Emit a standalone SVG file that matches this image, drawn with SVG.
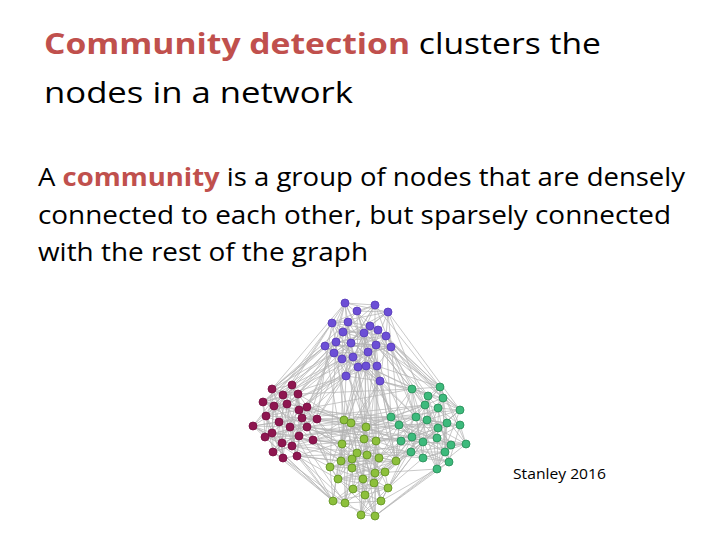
<svg xmlns="http://www.w3.org/2000/svg" width="720" height="540" viewBox="0 0 720 540">
<style>
text{font-family:"Open Sans","Noto Sans","Liberation Sans",sans-serif;fill:#000}
.red{fill:#C0504D;font-weight:bold}
.e path{fill:none;stroke:#b4b4b4;stroke-width:0.9;stroke-opacity:0.8;stroke-linejoin:round}
.p{fill:#6c4fd6;stroke:#5638b8;stroke-width:0.8}
.m{fill:#8e1650;stroke:#760c40;stroke-width:0.8}
.t{fill:#3dba7c;stroke:#278c57;stroke-width:0.8}
.g{fill:#8dc03c;stroke:#5e8f1f;stroke-width:0.8}
</style>
<rect width="720" height="540" fill="#fff"/>
<text x="44" y="54" font-size="29" textLength="557" lengthAdjust="spacingAndGlyphs"><tspan class="red">Community detection</tspan> clusters the</text>
<text x="44" y="103" font-size="29" textLength="309" lengthAdjust="spacingAndGlyphs">nodes in a network</text>
<text x="38" y="186" font-size="25" textLength="647" lengthAdjust="spacingAndGlyphs">A <tspan class="red">community</tspan> is a group of nodes that are densely</text>
<text x="38" y="224" font-size="25" textLength="633" lengthAdjust="spacingAndGlyphs">connected to each other, but sparsely connected</text>
<text x="38" y="261" font-size="25" textLength="330" lengthAdjust="spacingAndGlyphs">with the rest of the graph</text>
<text x="513" y="479" font-size="14" textLength="93" lengthAdjust="spacingAndGlyphs">Stanley 2016</text>
<g id="connectors" class="e">
<path d="M345 303L375 305L357 311L388 312L332 323L348 322L370 326L378 330L343 332L364 333L386 336L336 342L351 343L376 345L325 346L391 347L368 352L334 353L353 357L342 359L358 367L366 366L377 366L346 376L380 381Z"/>
<path d="M345 303L388 312L370 326L364 333L351 343L391 347L353 357L366 366L380 381L357 311L348 322L343 332L336 342L325 346L334 353L358 367L346 376L375 305L332 323L378 330L386 336L376 345L368 352L342 359L377 366Z"/>
<path d="M345 303L378 330L325 346L366 366L388 312L386 336L334 353L380 381L370 326L376 345L358 367L357 311L364 333L368 352L346 376L348 322L351 343L342 359L375 305L343 332L391 347L377 366L332 323L336 342L353 357Z"/>
<path d="M345 303L336 342L377 366L343 332L342 359L348 322L368 352L357 311L376 345L380 381L386 336L366 366L378 330L353 357L332 323L391 347L375 305L351 343L346 376L364 333L358 367L370 326L334 353L388 312L325 346Z"/>
<path d="M272 389L292 385L283 395L298 394L263 402L274 406L287 404L307 407L299 410L266 416L302 418L317 419L279 422L253 426L290 427L307 427L272 433L299 436L265 437L313 440L282 443L292 446L273 452L283 458L297 456Z"/>
<path d="M272 389L298 394L287 404L266 416L279 422L307 427L265 437L292 446L297 456L283 395L274 406L299 410L317 419L290 427L299 436L282 443L283 458L292 385L263 402L307 407L302 418L253 426L272 433L313 440L273 452Z"/>
<path d="M272 389L307 407L290 427L292 446L298 394L302 418L299 436L297 456L287 404L253 426L282 443L283 395L266 416L272 433L283 458L274 406L279 422L313 440L292 385L299 410L307 427L273 452L263 402L317 419L265 437Z"/>
<path d="M272 389L317 419L273 452L299 410L313 440L274 406L272 433L283 395L253 426L297 456L302 418L292 446L307 407L265 437L263 402L307 427L292 385L279 422L283 458L266 416L282 443L287 404L299 436L298 394L290 427Z"/>
<path d="M412 389L440 387L428 396L443 398L425 405L438 408L460 410L391 417L416 417L427 420L447 423L399 425L460 425L438 428L412 437L437 438L401 441L423 442L451 445L466 444L411 452L445 452L423 458L449 462L437 469Z"/>
<path d="M412 389L443 398L460 410L427 420L460 425L437 438L451 445L445 452L437 469L428 396L438 408L416 417L399 425L412 437L423 442L411 452L449 462L440 387L425 405L391 417L447 423L438 428L401 441L466 444L423 458Z"/>
<path d="M412 389L391 417L412 437L445 452L443 398L447 423L423 442L437 469L460 410L438 428L411 452L428 396L427 420L401 441L449 462L438 408L460 425L466 444L440 387L416 417L437 438L423 458L425 405L399 425L451 445Z"/>
<path d="M412 389L399 425L423 458L416 417L466 444L438 408L401 441L428 396L438 428L437 469L447 423L445 452L391 417L451 445L425 405L437 438L440 387L460 425L449 462L427 420L411 452L460 410L423 442L443 398L412 437Z"/>
<path d="M344 420L351 423L366 427L364 439L376 441L342 444L357 453L367 455L379 458L352 459L341 461L396 461L330 467L352 468L375 473L385 472L338 479L363 479L374 483L353 489L388 488L365 495L333 501L345 503L381 501L361 515L375 516Z"/>
<path d="M344 420L376 441L379 458L330 467L338 479L388 488L381 501L351 423L342 444L352 459L352 468L363 479L365 495L361 515L366 427L357 453L341 461L375 473L374 483L333 501L375 516L364 439L367 455L396 461L385 472L353 489L345 503Z"/>
<path d="M344 420L342 444L341 461L385 472L388 488L361 515L364 439L379 458L352 468L374 483L345 503L351 423L357 453L396 461L338 479L365 495L375 516L376 441L352 459L375 473L353 489L381 501L366 427L367 455L330 467L363 479L333 501Z"/>
<path d="M344 420L341 461L388 488L364 439L352 468L345 503L357 453L338 479L375 516L352 459L353 489L366 427L330 467L333 501L342 444L385 472L361 515L379 458L374 483L351 423L396 461L365 495L376 441L375 473L381 501L367 455L363 479Z"/>
<path d="M325 346L272 389L334 353L298 394L336 342L307 407L342 359L292 385L332 323L317 419L346 376L263 402L343 332L302 418L358 367L287 404L351 343L307 427L345 303L283 395L368 352L299 410"/>
<path d="M348 322L272 389L325 346L263 402L334 353L266 416L336 342L283 395L342 359L287 404L346 376L299 410L353 357L317 419"/>
<path d="M391 347L412 389L380 381L428 396L386 336L391 417L377 366L440 387L376 345L425 405L388 312L399 425L366 366L460 410L378 330L416 417L353 357L412 437L364 333L443 398"/>
<path d="M368 352L391 417L380 381L412 389L376 345L428 396L366 366L416 417L391 347L443 398L386 336L440 387L378 330L425 405"/>
<path d="M346 376L344 420L358 367L366 427L342 359L342 444L380 381L351 423L334 353L396 461L366 366L364 439L351 343L379 458L377 366L376 441"/>
<path d="M325 346L342 444L368 352L344 420L336 342L330 467L376 345L364 439L358 367L338 479L380 381L396 461L377 366L367 455L364 333L375 473"/>
<path d="M317 419L344 420L313 440L342 444L307 427L330 467L307 407L366 427L299 436L341 461L297 456L338 479L302 418L352 459L292 446L333 501L290 427L376 441L298 394L352 468"/>
<path d="M302 418L351 423L307 427L342 444L313 440L341 461L297 456L333 501L283 458L345 503L299 436L352 459L317 419L366 427"/>
<path d="M391 417L366 427L401 441L396 461L399 425L379 458L411 452L385 472L412 437L376 441L423 458L388 488L423 442L357 453L427 420L381 501L437 469L375 473L438 428L351 423"/>
<path d="M425 405L366 427L416 417L379 458L401 441L375 473L411 452L374 483L412 437L388 488L423 442L396 461L399 425L376 441L391 417L344 420"/>
<path d="M317 419L391 417L313 440L399 425L307 407L401 441L307 427L425 405L302 418L412 437"/>
<path d="M298 394L412 389L299 410L391 417L299 436L399 425L297 456L411 452L313 440L401 441L307 427L412 437L292 446L423 458"/>
<path d="M345 303L272 389M375 305L440 387M332 323L253 426M391 347L460 410M273 452L333 501M297 456L361 515M449 462L375 516M437 469L375 516M388 312L460 410M253 426L330 467M263 402L466 444M265 437L333 501M466 444L375 516M253 426L333 501M375 305L375 516M345 303L361 515"/>
</g>
<g id="p0"><circle class="p" cx="345" cy="303" r="4"/></g>
<g id="p1"><circle class="p" cx="375" cy="305" r="4"/></g>
<g id="p2"><circle class="p" cx="357" cy="311" r="4"/></g>
<g id="p3"><circle class="p" cx="388" cy="312" r="4"/></g>
<g id="p4"><circle class="p" cx="332" cy="323" r="4"/></g>
<g id="p5"><circle class="p" cx="348" cy="322" r="4"/></g>
<g id="p6"><circle class="p" cx="370" cy="326" r="4"/></g>
<g id="p7"><circle class="p" cx="378" cy="330" r="4"/></g>
<g id="p8"><circle class="p" cx="343" cy="332" r="4"/></g>
<g id="p9"><circle class="p" cx="364" cy="333" r="4"/></g>
<g id="p10"><circle class="p" cx="386" cy="336" r="4"/></g>
<g id="p11"><circle class="p" cx="336" cy="342" r="4"/></g>
<g id="p12"><circle class="p" cx="351" cy="343" r="4"/></g>
<g id="p13"><circle class="p" cx="376" cy="345" r="4"/></g>
<g id="p14"><circle class="p" cx="325" cy="346" r="4"/></g>
<g id="p15"><circle class="p" cx="391" cy="347" r="4"/></g>
<g id="p16"><circle class="p" cx="368" cy="352" r="4"/></g>
<g id="p17"><circle class="p" cx="334" cy="353" r="4"/></g>
<g id="p18"><circle class="p" cx="353" cy="357" r="4"/></g>
<g id="p19"><circle class="p" cx="342" cy="359" r="4"/></g>
<g id="p20"><circle class="p" cx="358" cy="367" r="4"/></g>
<g id="p21"><circle class="p" cx="366" cy="366" r="4"/></g>
<g id="p22"><circle class="p" cx="377" cy="366" r="4"/></g>
<g id="p23"><circle class="p" cx="346" cy="376" r="4"/></g>
<g id="p24"><circle class="p" cx="380" cy="381" r="4"/></g>
<g id="m0"><circle class="m" cx="272" cy="389" r="4"/></g>
<g id="m1"><circle class="m" cx="292" cy="385" r="4"/></g>
<g id="m2"><circle class="m" cx="283" cy="395" r="4"/></g>
<g id="m3"><circle class="m" cx="298" cy="394" r="4"/></g>
<g id="m4"><circle class="m" cx="263" cy="402" r="4"/></g>
<g id="m5"><circle class="m" cx="274" cy="406" r="4"/></g>
<g id="m6"><circle class="m" cx="287" cy="404" r="4"/></g>
<g id="m7"><circle class="m" cx="307" cy="407" r="4"/></g>
<g id="m8"><circle class="m" cx="299" cy="410" r="4"/></g>
<g id="m9"><circle class="m" cx="266" cy="416" r="4"/></g>
<g id="m10"><circle class="m" cx="302" cy="418" r="4"/></g>
<g id="m11"><circle class="m" cx="317" cy="419" r="4"/></g>
<g id="m12"><circle class="m" cx="279" cy="422" r="4"/></g>
<g id="m13"><circle class="m" cx="253" cy="426" r="4"/></g>
<g id="m14"><circle class="m" cx="290" cy="427" r="4"/></g>
<g id="m15"><circle class="m" cx="307" cy="427" r="4"/></g>
<g id="m16"><circle class="m" cx="272" cy="433" r="4"/></g>
<g id="m17"><circle class="m" cx="299" cy="436" r="4"/></g>
<g id="m18"><circle class="m" cx="265" cy="437" r="4"/></g>
<g id="m19"><circle class="m" cx="313" cy="440" r="4"/></g>
<g id="m20"><circle class="m" cx="282" cy="443" r="4"/></g>
<g id="m21"><circle class="m" cx="292" cy="446" r="4"/></g>
<g id="m22"><circle class="m" cx="273" cy="452" r="4"/></g>
<g id="m23"><circle class="m" cx="283" cy="458" r="4"/></g>
<g id="m24"><circle class="m" cx="297" cy="456" r="4"/></g>
<g id="t0"><circle class="t" cx="412" cy="389" r="4"/></g>
<g id="t1"><circle class="t" cx="440" cy="387" r="4"/></g>
<g id="t2"><circle class="t" cx="428" cy="396" r="4"/></g>
<g id="t3"><circle class="t" cx="443" cy="398" r="4"/></g>
<g id="t4"><circle class="t" cx="425" cy="405" r="4"/></g>
<g id="t5"><circle class="t" cx="438" cy="408" r="4"/></g>
<g id="t6"><circle class="t" cx="460" cy="410" r="4"/></g>
<g id="t7"><circle class="t" cx="391" cy="417" r="4"/></g>
<g id="t8"><circle class="t" cx="416" cy="417" r="4"/></g>
<g id="t9"><circle class="t" cx="427" cy="420" r="4"/></g>
<g id="t10"><circle class="t" cx="447" cy="423" r="4"/></g>
<g id="t11"><circle class="t" cx="399" cy="425" r="4"/></g>
<g id="t12"><circle class="t" cx="460" cy="425" r="4"/></g>
<g id="t13"><circle class="t" cx="438" cy="428" r="4"/></g>
<g id="t14"><circle class="t" cx="412" cy="437" r="4"/></g>
<g id="t15"><circle class="t" cx="437" cy="438" r="4"/></g>
<g id="t16"><circle class="t" cx="401" cy="441" r="4"/></g>
<g id="t17"><circle class="t" cx="423" cy="442" r="4"/></g>
<g id="t18"><circle class="t" cx="451" cy="445" r="4"/></g>
<g id="t19"><circle class="t" cx="466" cy="444" r="4"/></g>
<g id="t20"><circle class="t" cx="411" cy="452" r="4"/></g>
<g id="t21"><circle class="t" cx="445" cy="452" r="4"/></g>
<g id="t22"><circle class="t" cx="423" cy="458" r="4"/></g>
<g id="t23"><circle class="t" cx="449" cy="462" r="4"/></g>
<g id="t24"><circle class="t" cx="437" cy="469" r="4"/></g>
<g id="g0"><circle class="g" cx="344" cy="420" r="4"/></g>
<g id="g1"><circle class="g" cx="351" cy="423" r="4"/></g>
<g id="g2"><circle class="g" cx="366" cy="427" r="4"/></g>
<g id="g3"><circle class="g" cx="364" cy="439" r="4"/></g>
<g id="g4"><circle class="g" cx="376" cy="441" r="4"/></g>
<g id="g5"><circle class="g" cx="342" cy="444" r="4"/></g>
<g id="g6"><circle class="g" cx="357" cy="453" r="4"/></g>
<g id="g7"><circle class="g" cx="367" cy="455" r="4"/></g>
<g id="g8"><circle class="g" cx="379" cy="458" r="4"/></g>
<g id="g9"><circle class="g" cx="352" cy="459" r="4"/></g>
<g id="g10"><circle class="g" cx="341" cy="461" r="4"/></g>
<g id="g11"><circle class="g" cx="396" cy="461" r="4"/></g>
<g id="g12"><circle class="g" cx="330" cy="467" r="4"/></g>
<g id="g13"><circle class="g" cx="352" cy="468" r="4"/></g>
<g id="g14"><circle class="g" cx="375" cy="473" r="4"/></g>
<g id="g15"><circle class="g" cx="385" cy="472" r="4"/></g>
<g id="g16"><circle class="g" cx="338" cy="479" r="4"/></g>
<g id="g17"><circle class="g" cx="363" cy="479" r="4"/></g>
<g id="g18"><circle class="g" cx="374" cy="483" r="4"/></g>
<g id="g19"><circle class="g" cx="353" cy="489" r="4"/></g>
<g id="g20"><circle class="g" cx="388" cy="488" r="4"/></g>
<g id="g21"><circle class="g" cx="365" cy="495" r="4"/></g>
<g id="g22"><circle class="g" cx="333" cy="501" r="4"/></g>
<g id="g23"><circle class="g" cx="345" cy="503" r="4"/></g>
<g id="g24"><circle class="g" cx="381" cy="501" r="4"/></g>
<g id="g25"><circle class="g" cx="361" cy="515" r="4"/></g>
<g id="g26"><circle class="g" cx="375" cy="516" r="4"/></g>
</svg>
